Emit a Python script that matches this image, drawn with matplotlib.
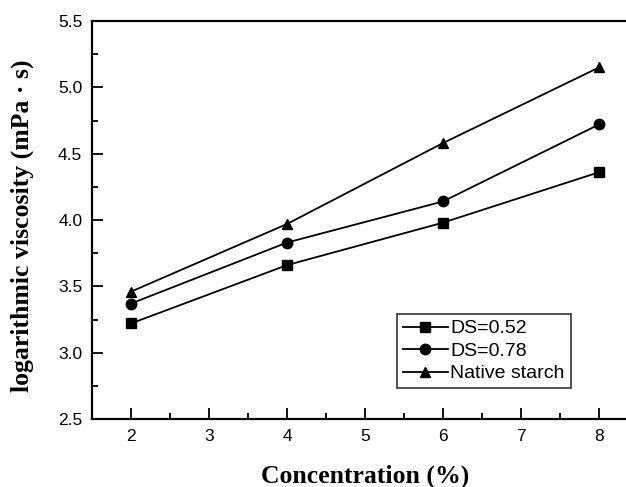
import matplotlib
matplotlib.use('Agg')
from matplotlib import pyplot as plt
from matplotlib.ticker import MultipleLocator

conc = [2, 4, 6, 8]
ds052 = [3.22, 3.66, 3.98, 4.36]
ds078 = [3.37, 3.83, 4.14, 4.72]
native = [3.46, 3.97, 4.58, 5.15]

fig = plt.figure(figsize=(6.26, 4.87), dpi=100)
ax = fig.add_axes([92/626, 1 - 419/487, (638-92)/626, (419-21)/487])

ax.plot(conc, ds052, '-s', color='k', lw=1.3, ms=7.5, label='DS=0.52')
ax.plot(conc, ds078, '-o', color='k', lw=1.3, ms=7.5, label='DS=0.78')
ax.plot(conc, native, '-^', color='k', lw=1.3, ms=7.5, label='Native starch')

ax.set_xlim(1.5, 8.5)
ax.set_ylim(2.5, 5.5)
ax.xaxis.set_major_locator(MultipleLocator(1))
ax.xaxis.set_minor_locator(MultipleLocator(0.5))
ax.yaxis.set_major_locator(MultipleLocator(0.5))
ax.yaxis.set_minor_locator(MultipleLocator(0.25))
ax.tick_params(which='both', direction='in', top=False, right=False, width=1.3)
ax.tick_params(which='major', length=8, labelsize=12.5, pad=7)
ax.tick_params(which='minor', length=4)
for lab in ax.get_xticklabels() + ax.get_yticklabels():
    lab.set_family('Liberation Sans')
for s in ax.spines.values():
    s.set_linewidth(1.6)

ax.set_xlabel('Concentration (%)', family='Liberation Serif', fontweight='bold', fontsize=18.5)
ax.set_ylabel('logarithmic viscosity (mPa · s)', family='Liberation Serif', fontweight='bold', fontsize=18.5)
ax.xaxis.set_label_coords(0.5, (419 - 465) / 398)
ax.yaxis.set_label_coords((34 - 92) / 546, 0.485)

leg = ax.legend(loc='upper left', bbox_to_anchor=((397-92)/546, 1 - (314-21)/398),
                prop={'family': 'Liberation Sans', 'size': 14}, frameon=True, fancybox=False,
                borderpad=0.3, labelspacing=0.25, handlelength=2.3, handletextpad=0.15, borderaxespad=0)
leg.get_frame().set_edgecolor('k')
leg.get_frame().set_linewidth(1.2)

fig.savefig('out.png', dpi=100)
